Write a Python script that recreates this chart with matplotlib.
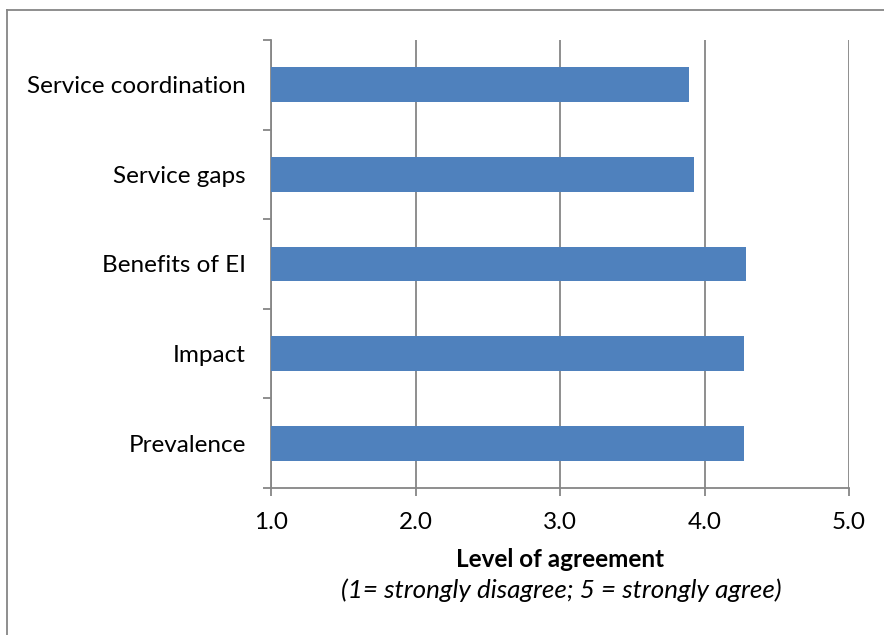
import numpy as np
import matplotlib.pyplot as plt
from matplotlib.lines import Line2D

categories = ["Prevalence", "Impact", "Benefits of EI", "Service gaps", "Service coordination"]
values = [4.27, 4.27, 4.285, 3.93, 3.89]
xticks = [1.0, 2.0, 3.0, 4.0, 5.0]

W, H = 884, 635
plt.rcParams["font.family"] = ["Lato", "DejaVu Sans"]
fs = 17.5

fig = plt.figure(figsize=(W / 100, H / 100), dpi=100)
ax = fig.add_axes([271 / W, 1 - 488 / H, 578 / W, 448 / H])

grid_col = "#868686"
y = np.arange(len(categories))
ax.barh(y, np.array(values) - 1.0, left=1.0, height=0.39, color="#4F81BD", zorder=3)

ax.set_xlim(1.0, 5.0)
ax.set_ylim(-0.5, len(categories) - 0.5)
ax.set_xticks(xticks)
ax.set_xticklabels([f"{v:.1f}" for v in xticks], fontsize=fs)
ax.set_yticks(y)
ax.set_yticklabels(categories, fontsize=fs)
ax.set_yticks(np.arange(-0.5, len(categories)), minor=True)

ax.tick_params(axis="y", which="major", length=0, pad=18)
ax.tick_params(axis="y", which="minor", length=5.5, color=grid_col, width=1.3, direction="out")
ax.tick_params(axis="x", which="major", length=5.5, color=grid_col, width=1.3, direction="out", pad=11.5)

ax.grid(axis="x", color=grid_col, linewidth=1.3, zorder=0)
for s in ["top", "right"]:
    ax.spines[s].set_visible(False)
for s in ["left", "bottom"]:
    ax.spines[s].set_color(grid_col)
    ax.spines[s].set_linewidth(1.3)

fig.text(560 / W, 1 - 567 / H, "Level of agreement", ha="center", va="baseline",
         fontsize=fs, fontweight="bold")
fig.text(561 / W, 1 - 598 / H, "(1= strongly disagree; 5 = strongly agree)", ha="center",
         va="baseline", fontsize=18.7, style="italic")

# chart border (only top and left visible)
fig.add_artist(Line2D([7 / W, 1.0], [1 - 10 / H, 1 - 10 / H], color=grid_col, lw=1.3,
                      transform=fig.transFigure))
fig.add_artist(Line2D([7 / W, 7 / W], [0.0, 1 - 10 / H], color=grid_col, lw=1.3,
                      transform=fig.transFigure))

fig.savefig("out.png", dpi=100)
